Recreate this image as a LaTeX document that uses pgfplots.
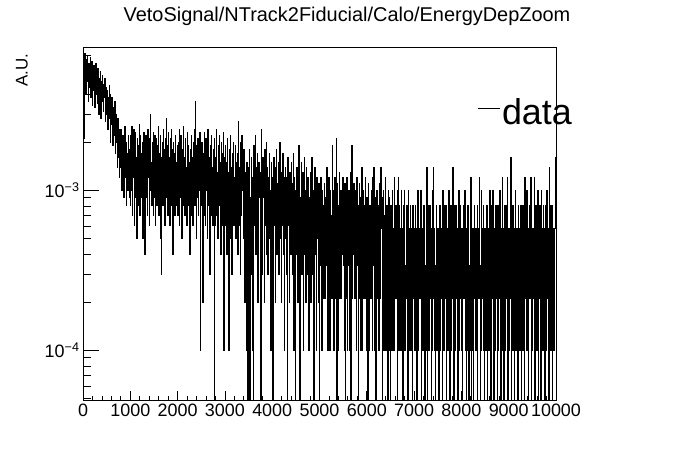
\documentclass[border=0pt]{standalone}
\usepackage{fontspec}
\setmainfont{Liberation Sans}
\usepackage{pgfplots}
\usepackage{pgfplotstable}
\pgfplotsset{compat=1.18}

% bin contents in units of 1e-4, 10-wide bins from 0 to 10000 (0.01 = empty bin)
\pgfplotstableread[row sep=\\]{
v\\
60\\78\\45\\21\\72\\55\\40\\66\\48\\70\\56\\36\\62\\44\\52\\68\\38\\58\\46\\64\\34\\50\\42\\60\\55\\
33\\47\\62\\40\\52\\35\\58\\44\\30\\50\\38\\55\\42\\28\\48\\36\\52\\40\\31\\46\\38\\50\\27\\44\\35\\
30\\42\\24\\38\\36\\28\\45\\40\\20\\32\\26\\38\\35\\19\\28\\33\\22\\36\\17\\25\\30\\20\\14\\28\\22\\
27\\16\\12\\24\\20\\14\\24\\10\\15\\22\\18\\9\\19\\25\\12\\16\\8\\20\\13\\17\\10\\22\\15\\9\\18\\
8\\22\\10\\25\\7\\18\\12\\24\\6\\20\\9\\23\\11\\16\\5\\21\\8\\19\\13\\26\\7\\22\\10\\17\\9\\
20\\5\\14\\23\\8\\19\\4\\16\\22\\9\\18\\7\\24\\12\\21\\6\\17\\30\\10\\15\\8\\20\\11\\23\\7\\
18\\9\\22\\6\\15\\21\\8\\19\\12\\25\\7\\17\\10\\22\\5\\16\\3\\13\\20\\8\\24\\11\\18\\6\\21\\
9\\28\\12\\19\\7\\23\\10\\16\\6\\21\\13\\8\\24\\9\\18\\4\\20\\11\\17\\7\\22\\10\\15\\8\\19\\
7\\20\\11\\24\\6\\17\\9\\22\\12\\5\\18\\8\\25\\10\\16\\7\\21\\9\\14\\6\\23\\11\\19\\8\\15\\
10\\4\\18\\7\\22\\9\\16\\6\\20\\12\\24\\8\\36\\11\\17\\5\\19\\9\\21\\7\\15\\10\\23\\1\\14\\
8\\20\\11\\2\\17\\7\\23\\9\\15\\6\\21\\10\\18\\5\\24\\8\\16\\11\\3\\19\\7\\22\\9\\14\\6\\
18\\10\\0.01\\21\\6\\16\\9\\24\\7\\13\\5\\19\\11\\22\\8\\15\\4\\20\\9\\17\\6\\23\\10\\1\\16\\
6\\19\\9\\15\\4\\21\\8\\13\\1\\18\\7\\22\\5\\14\\10\\3\\17\\8\\20\\6\\12\\9\\19\\5\\15\\
8\\17\\4\\27\\9\\14\\6\\20\\3\\12\\7\\22\\10\\16\\5\\18\\7\\2\\13\\9\\1\\15\\6\\0.01\\11\\
14\\5\\18\\0.01\\9\\3\\16\\7\\12\\1\\0.01\\19\\6\\11\\22\\4\\14\\8\\17\\2\\10\\6\\15\\9\\13\\
5\\0.01\\24\\7\\3\\16\\9\\13\\2\\18\\6\\11\\4\\20\\8\\14\\3\\12\\7\\17\\5\\10\\1\\15\\8\\
12\\0.01\\3\\16\\6\\10\\2\\14\\7\\18\\4\\11\\8\\15\\3\\9\\20\\5\\13\\2\\10\\6\\17\\4\\12\\
1\\9\\5\\14\\7\\3\\12\\0.01\\16\\6\\10\\2\\13\\8\\4\\15\\6\\11\\3\\17\\7\\1\\12\\5\\0.01\\
10\\4\\14\\7\\2\\12\\19\\0.01\\0.01\\9\\5\\15\\3\\11\\6\\13\\1\\8\\16\\4\\10\\2\\14\\6\\3\\
12\\5\\1\\9\\4\\13\\7\\2\\11\\16\\6\\3\\10\\0.01\\8\\14\\4\\9\\1\\12\\5\\7\\2\\11\\6\\
0.01\\9\\3.4\\12\\5.8\\1\\10\\4\\8\\2.1\\11\\5.8\\2.1\\9\\3.4\\14\\5\\1\\8\\2.1\\12\\6\\1\\10\\3.4\\
7\\2.1\\19\\4\\10\\1\\5.8\\12\\2.1\\8\\21\\0.01\\5\\11\\1\\8\\3.4\\13\\2.1\\6\\10\\2.1\\9\\4\\12\\
3.4\\8\\1\\11\\0.01\\5.8\\9\\2.1\\12\\1\\7\\3.4\\10\\1\\6\\13\\0.01\\5\\19\\2.1\\9\\4\\11\\2.1\\7\\
2.1\\10\\5.8\\1\\12\\3.4\\8\\0.01\\6\\11\\2.1\\9\\1\\5.8\\14\\1\\7\\3.4\\10\\2.1\\8\\2.1\\12\\5\\1\\
9\\3.4\\0.01\\11\\5.8\\1\\8\\2.1\\2.1\\10\\5.8\\1\\12\\3.4\\7\\14\\1\\5.8\\9\\0.01\\3.4\\10\\2.1\\6\\1\\
8\\1\\11\\3.4\\2.1\\14\\5.8\\9\\0.01\\2.1\\10\\1\\7\\3.4\\12\\1\\5.8\\8\\2.1\\0.01\\10\\3.4\\1\\9\\5.8\\
0.01\\8\\3.4\\1\\10\\2.1\\5.8\\1\\12\\3.4\\2.1\\8\\2.1\\5.8\\0.01\\10\\12\\1\\3.4\\8\\1\\5.8\\2.1\\10\\1\\
5.8\\0.01\\8\\2.1\\10\\1\\3.4\\2.1\\5.8\\8\\1\\3.4\\0.01\\10\\2.1\\5.8\\1\\8\\3.4\\1\\5.8\\0.01\\8\\2.1\\3.4\\
5.8\\1\\3.4\\8\\1\\5.8\\0.01\\2.1\\10\\1\\3.4\\2.1\\5.8\\2.1\\10\\0.01\\3.4\\5.8\\1\\2.1\\8\\2.1\\5.8\\0.01\\3.4\\
1\\5.8\\14\\0.01\\3.4\\8\\1\\2.1\\8\\2.1\\5.8\\0.01\\1\\3.4\\10\\2.1\\14\\2.1\\5.8\\1\\0.01\\3.4\\8\\1\\5.8\\
2.1\\5.8\\0.01\\3.4\\8\\1\\2.1\\5.8\\2.1\\0.01\\5.8\\10\\1\\3.4\\1\\8\\2.1\\8\\0.01\\3.4\\5.8\\1\\2.1\\10\\3.4\\
0.01\\5.8\\2.1\\8\\1\\3.4\\2.1\\14\\5.8\\0.01\\2.1\\8\\1\\8\\2.1\\3.4\\5.8\\0.01\\1\\10\\3.4\\1\\8\\2.1\\5.8\\
1\\3.4\\0.01\\5.8\\8\\2.1\\2.1\\10\\1\\3.4\\0.01\\5.8\\1\\8\\2.1\\5.8\\0.01\\3.4\\1\\8\\12\\0.01\\5.8\\3.4\\1\\
0.01\\5.8\\8\\2.1\\1\\5.8\\1\\3.4\\0.01\\8\\2.1\\5.8\\2.1\\12\\3.4\\0.01\\1\\10\\3.4\\2.1\\5.8\\8\\1\\0.01\\5.8\\
3.4\\1\\8\\1\\8\\0.01\\2.1\\5.8\\1\\3.4\\10\\1\\0.01\\8\\5.8\\2.1\\10\\2.1\\0.01\\5.8\\3.4\\1\\2.1\\8\\2.1\\
5.8\\0.01\\8\\1\\3.4\\2.1\\10\\2.1\\0.01\\5.8\\1\\12\\2.1\\3.4\\5.8\\0.01\\2.1\\8\\1\\2.1\\8\\3.4\\12\\0.01\\5.8\\
1\\5.8\\2.1\\3.4\\16\\0.01\\5.8\\2.1\\1\\8\\1\\5.8\\0.01\\3.4\\10\\1\\2.1\\5.8\\2.1\\0.01\\8\\3.4\\1\\5.8\\1\\
8\\0.01\\5.8\\2.1\\1\\8\\1\\3.4\\0.01\\12\\2.1\\5.8\\1\\10\\1\\5.8\\0.01\\3.4\\8\\2.1\\2.1\\8\\12\\0.01\\5.8\\
1\\2.1\\5.8\\3.4\\12\\0.01\\2.1\\8\\1\\5.8\\1\\10\\0.01\\3.4\\2.1\\5.8\\8\\1\\0.01\\10\\5.8\\2.1\\1\\8\\1\\
5.8\\0.01\\8\\1\\3.4\\10\\2.1\\2.1\\5.8\\1\\0.01\\14\\3.4\\1\\8\\1\\8\\0.01\\3.4\\5.8\\1\\2.1\\5.8\\16\\5.8\\
5.8\\
}\energydep

\begin{document}
\begin{tikzpicture}
\path[use as bounding box] (0,0) rectangle (696bp,472bp);
\begin{axis}[
  scale only axis,
  width=473bp, height=353bp,
  at={(83bp,72bp)}, anchor=south west,
  ymode=log,
  xmin=0, xmax=10000,
  ymin=4.9e-5, ymax=7.88e-3,
  xtick={0,1000,2000,3000,4000,5000,6000,7000,8000,9000,10000},
  xticklabels={0,1000,2000,3000,4000,5000,6000,7000,8000,9000,10000},
  scaled x ticks=false,
  minor x tick num=4,
  ytick={1e-4,1e-3},
  yticklabels={10\textsuperscript{−4},10\textsuperscript{−3}},
  minor ytick={5e-5,6e-5,7e-5,8e-5,9e-5,2e-4,3e-4,4e-4,5e-4,6e-4,7e-4,8e-4,9e-4,2e-3,3e-3,4e-3,5e-3,6e-3,7e-3},
  tick pos=left,
  tick align=inside,
  xtick style={/pgfplots/major tick length=9bp,/pgfplots/minor tick length=4.5bp,black,line width=0.8bp},
  ytick style={/pgfplots/major tick length=16bp,/pgfplots/minor tick length=8bp,black,line width=0.8bp},
  axis line style={line width=0.8bp},
  tick label style={font=\fontsize{18}{18}\selectfont},
  legend style={at={(rel axis cs:0.833,0.816)}, anchor=west, draw=none, fill=none,
    inner sep=0pt, nodes={inner sep=2bp}, font=\fontsize{36}{36}\selectfont},
  legend image code/.code={\draw[black,line width=0.8bp] (0bp,4bp) -- (22bp,4bp);},
]
\addplot[const plot mark left, black, line width=1bp]
  table[x index=0, y index=0, x expr=\coordindex*10, y expr=\thisrow{v}*1e-4] {\energydep};
\addlegendentry{data}
\end{axis}
\node[font=\fontsize{20}{20}\selectfont] at (347bp,456bp) {VetoSignal/NTrack2Fiducial/Calo/EnergyDepZoom};
\node[rotate=90, anchor=east, font=\fontsize{17}{17}\selectfont] at (22bp,422bp) {A.U.};
\end{tikzpicture}
\end{document}
